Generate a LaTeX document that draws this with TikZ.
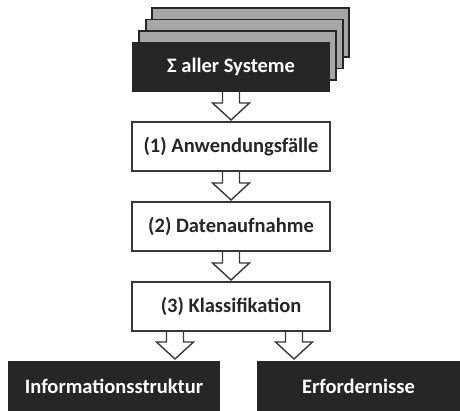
\documentclass[tikz,border=0pt]{standalone}
\usepackage{fontspec}
\setmainfont{Carlito}
\usetikzlibrary{calc,backgrounds}
\definecolor{ink}{HTML}{262626}
\definecolor{edge}{HTML}{383838}
\definecolor{sheet}{HTML}{A6A6A6}
\tikzset{
  box/.style={rectangle, draw=edge, line width=1.4pt, fill=white, text=ink,
    font=\bfseries\fontsize{20.5}{24}\selectfont, inner sep=0pt, outer sep=0pt,
    minimum width=198pt, minimum height=49pt},
  darkbox/.style={rectangle, draw=none, fill=ink, text=white,
    font=\bfseries\fontsize{20.5}{24}\selectfont, inner sep=0pt, outer sep=0pt},
  sheetbox/.style={rectangle, draw=ink, line width=1.8pt, fill=sheet,
    inner sep=0pt, outer sep=0pt, minimum width=197pt, minimum height=49pt},
  blockarrow/.style={draw=edge, line width=1.4pt, fill=white, line join=miter}
}
% hollow block arrow from a point on one box down to the top of another
\newcommand\blockarrow[2]{%
  \draw[blockarrow] let \p1=(#1), \p2=(#2) in
    (\x1-8.5pt,\y1) -- (\x1-8.5pt,\y2+19pt) -- (\x1-18.5pt,\y2+19pt)
    -- (\x1,\y2+2pt) -- (\x1+18.5pt,\y2+19pt) -- (\x1+8.5pt,\y2+19pt)
    -- (\x1+8.5pt,\y1);}
\begin{document}
\begin{tikzpicture}[x=1pt,y=-1pt]
\useasboundingbox (0,0) rectangle (460,411);
% stack of system sheets behind the sum box
\node[sheetbox] (g3) at (250.5,32.5) {};
\node[sheetbox] (g2) at (244.5,44) {};
\node[sheetbox] (g1) at (237.5,55.5) {};
\node[darkbox, minimum width=198pt, minimum height=50pt] (sum) at (231,67) {Σ aller Systeme};
% process steps
\node[box] (b1) at (231,146.5) {(1) Anwendungsfälle};
\node[box] (b2) at (231,226.5) {(2) Datenaufnahme};
\node[box] (b3) at (231,306.5) {(3) Klassifikation};
% results
\node[darkbox, minimum width=212pt, minimum height=50pt] (info) at (114,386) {Informationsstruktur};
\node[darkbox, minimum width=203pt, minimum height=50pt] (req) at (358.5,386) {Erfordernisse};
% flow arrows
\begin{scope}[on background layer]
\blockarrow{sum.south}{b1.north}
\blockarrow{b1.south}{b2.north}
\blockarrow{b2.south}{b3.north}
\blockarrow{[xshift=-56pt]b3.south}{info.north}
\blockarrow{[xshift=63pt]b3.south}{req.north}
\end{scope}
\end{tikzpicture}
\end{document}
